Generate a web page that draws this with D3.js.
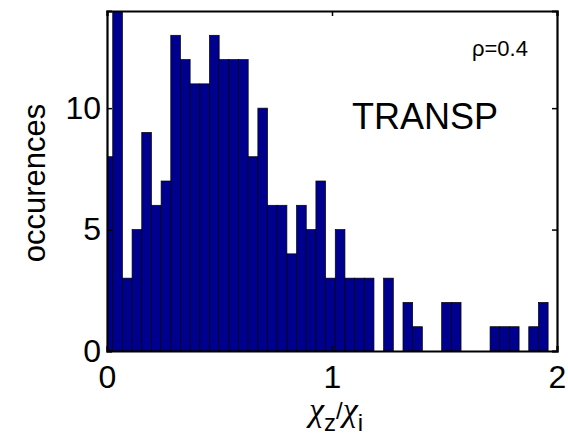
<!DOCTYPE html>
<html>
<head>
<meta charset="utf-8">
<script src="https://cdn.jsdelivr.net/npm/d3@7"></script>
<style>
  html, body { margin: 0; padding: 0; background: #fff; }
  svg { display: block; }
  text { font-family: "Liberation Sans", Arial, sans-serif; fill: #000; }
</style>
</head>
<body>
<div id="chart"></div>
<script>
// Histogram of chi_z / chi_i from TRANSP runs (rho = 0.4)
const counts = [8, 14, 3, 5, 9, 6, 7, 13, 12, 11, 11, 13, 12, 12, 12, 8,
                10, 6, 6, 4, 6, 5, 7, 3, 5, 3, 3, 3, 0, 3, 0, 2,
                1, 0, 0, 2, 2, 0, 0, 0, 1, 1, 1, 0, 1, 2];
const firstBinCenter = 0.004;
const binWidth = 0.043;
const xTicks = [0, 1, 2];
const yTicks = [0, 5, 10];
const xDomain = [0, 2];
const yDomain = [0, 14];

const W = 568, H = 446;
const margin = { left: 107, right: 11, top: 11, bottom: 95 };
const innerW = W - margin.left - margin.right;
const innerH = H - margin.top - margin.bottom;

const svg = d3.select("#chart").append("svg")
  .attr("width", W).attr("height", H);

const x = d3.scaleLinear().domain(xDomain).range([0, innerW]);
const y = d3.scaleLinear().domain(yDomain).range([innerH, 0]);

const g = svg.append("g").attr("transform", `translate(${margin.left},${margin.top})`);

g.append("clipPath").attr("id", "plot-clip")
  .append("rect").attr("width", innerW).attr("height", innerH);

const bins = counts.map((c, i) => {
  const center = firstBinCenter + i * binWidth;
  return { x0: center - binWidth / 2, x1: center + binWidth / 2, count: c };
});

g.append("g").attr("clip-path", "url(#plot-clip)")
  .selectAll("rect").data(bins.filter(d => d.count > 0)).join("rect")
  .attr("x", d => x(d.x0))
  .attr("width", d => x(d.x1) - x(d.x0))
  .attr("y", d => y(d.count))
  .attr("height", d => y(0) - y(d.count))
  .attr("fill", "#00008f")
  .attr("stroke", "#000")
  .attr("stroke-width", 0.7);

// Axes: ticks drawn inward on all four sides, labels on left and bottom
const tickLen = 5;
const bottomAxis = d3.axisBottom(x).tickValues(xTicks).tickSize(-tickLen).tickPadding(14).tickFormat(d3.format("d"));
const topAxis = d3.axisTop(x).tickValues(xTicks).tickSize(-tickLen).tickFormat("");
const leftAxis = d3.axisLeft(y).tickValues(yTicks).tickSize(-tickLen).tickPadding(6).tickFormat(d3.format("d"));
const rightAxis = d3.axisRight(y).tickValues(yTicks).tickSize(-tickLen).tickFormat("");

function styleAxis(sel) {
  sel.select(".domain").attr("stroke", "#000").attr("stroke-width", 2.2);
  sel.selectAll(".tick line").attr("stroke", "#000").attr("stroke-width", 1.5);
  sel.selectAll(".tick text").attr("font-size", 32).attr("fill", "#000")
    .attr("font-family", "'Liberation Sans', Arial, sans-serif");
}

g.append("g").attr("transform", `translate(0,${innerH})`).call(bottomAxis).call(styleAxis);
g.append("g").call(topAxis).call(styleAxis);
g.append("g").call(leftAxis).call(styleAxis);
g.append("g").attr("transform", `translate(${innerW},0)`).call(rightAxis).call(styleAxis);

// Axis titles
svg.append("text")
  .attr("transform", `translate(45,${183}) rotate(-90)`)
  .attr("text-anchor", "middle")
  .attr("font-size", 31)
  .text("occurences");

const xt = svg.append("text")
  .attr("x", 336).attr("y", 421)
  .attr("text-anchor", "middle")
  .attr("font-size", 34);
xt.append("tspan").attr("font-family", "'Liberation Serif', serif").attr("font-style", "italic").text("χ");
xt.append("tspan").attr("font-size", 24).attr("dy", 10).text("z");
xt.append("tspan").attr("font-size", 24).attr("dy", -12).text("/");
xt.append("tspan").attr("font-family", "'Liberation Serif', serif").attr("font-style", "italic").attr("dy", 2).text("χ");
xt.append("tspan").attr("font-size", 24).attr("dy", 10).text("i");

// Annotations
svg.append("text").attr("x", 352).attr("y", 129).attr("font-size", 36).text("TRANSP");
svg.append("text").attr("x", 472).attr("y", 56).attr("font-size", 22).text("ρ=0.4");
</script>
</body>
</html>
